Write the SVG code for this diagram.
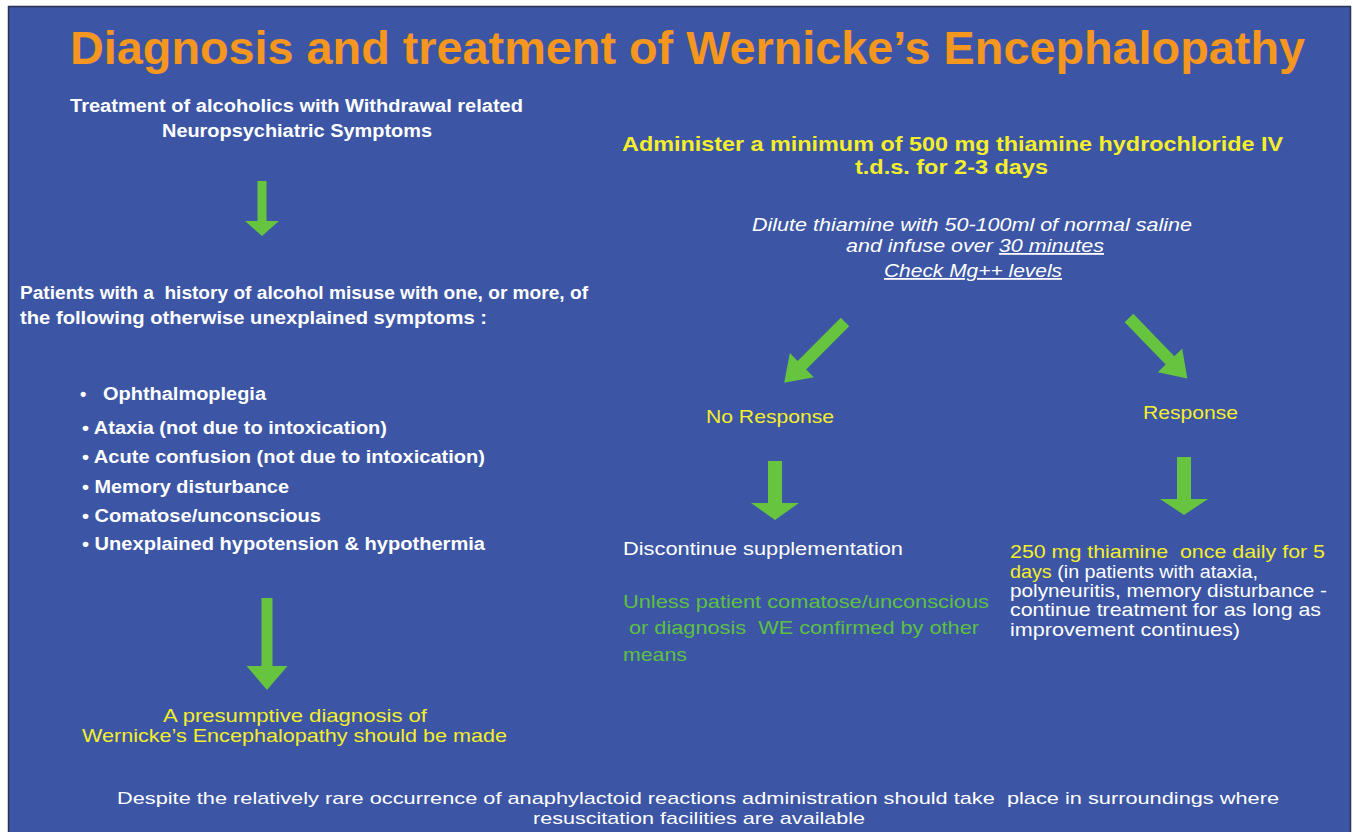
<svg xmlns="http://www.w3.org/2000/svg" width="1353" height="832" viewBox="0 0 1353 832">
<defs>
<style>
text{font-family:"Liberation Sans",Arial,sans-serif;white-space:pre;}
.t{fill:#f5961f;font-weight:bold;font-size:47px;}
.w{fill:#ffffff;}
.y{fill:#f4ee2b;}
.g{fill:#5dc043;}
.b{font-weight:bold;}
.i{font-style:italic;}
.u{text-decoration:underline;}
.arr{fill:#66c43f;}
</style>
</defs>
<rect x="0" y="0" width="1353" height="832" fill="#ffffff"/>
<rect x="8.5" y="6.5" width="1342" height="830" fill="#3c56a5" stroke="#2b3150" stroke-width="1.5"/>

<g id="title"><text class="t" x="70" y="64" textLength="1235" lengthAdjust="spacingAndGlyphs">Diagnosis and treatment of Wernicke’s Encephalopathy</text></g>

<g id="start">
<text class="w b" x="70" y="112" font-size="18" textLength="453" lengthAdjust="spacingAndGlyphs">Treatment of alcoholics with Withdrawal related</text>
<text class="w b" x="162" y="137" font-size="18" textLength="270" lengthAdjust="spacingAndGlyphs">Neuropsychiatric Symptoms</text>
</g>

<g id="patients">
<text class="w b" x="20" y="299" font-size="18" textLength="568" lengthAdjust="spacingAndGlyphs">Patients with a  history of alcohol misuse with one, or more, of</text>
<text class="w b" x="20" y="324" font-size="18" textLength="467" lengthAdjust="spacingAndGlyphs">the following otherwise unexplained symptoms :</text>
</g>

<g id="symptoms">
<text class="w b" x="80" y="400" font-size="18">•</text>
<text class="w b" x="103" y="400" font-size="18" textLength="163" lengthAdjust="spacingAndGlyphs">Ophthalmoplegia</text>
<text class="w b" x="82" y="434" font-size="18" textLength="305" lengthAdjust="spacingAndGlyphs">• Ataxia (not due to intoxication)</text>
<text class="w b" x="82" y="463" font-size="18" textLength="403" lengthAdjust="spacingAndGlyphs">• Acute confusion (not due to intoxication)</text>
<text class="w b" x="82" y="493" font-size="18" textLength="207" lengthAdjust="spacingAndGlyphs">• Memory disturbance</text>
<text class="w b" x="82" y="522" font-size="18" textLength="239" lengthAdjust="spacingAndGlyphs">• Comatose/unconscious</text>
<text class="w b" x="82" y="550" font-size="18" textLength="403" lengthAdjust="spacingAndGlyphs">• Unexplained hypotension &amp; hypothermia</text>
</g>

<g id="presumptive">
<text class="y" x="163" y="722" font-size="19" textLength="264" lengthAdjust="spacingAndGlyphs">A presumptive diagnosis of</text>
<text class="y" x="82" y="742" font-size="19" textLength="425" lengthAdjust="spacingAndGlyphs">Wernicke’s Encephalopathy should be made</text>
</g>

<g id="administer">
<text class="y b" x="622" y="151" font-size="21" textLength="661" lengthAdjust="spacingAndGlyphs">Administer a minimum of 500 mg thiamine hydrochloride IV</text>
<text class="y b" x="855" y="174" font-size="21" textLength="193" lengthAdjust="spacingAndGlyphs">t.d.s. for 2-3 days</text>
</g>

<g id="dilute">
<text class="w i" x="752" y="231" font-size="18" textLength="440" lengthAdjust="spacingAndGlyphs">Dilute thiamine with 50-100ml of normal saline</text>
<text class="w i" x="846" y="252" font-size="18" textLength="258" lengthAdjust="spacingAndGlyphs">and infuse over <tspan class="u">30 minutes</tspan></text>
<text class="w i u" x="884" y="277" font-size="18" textLength="178" lengthAdjust="spacingAndGlyphs">Check Mg++ levels</text>
</g>

<g id="no-response"><text class="y" x="706" y="423" font-size="19" textLength="128" lengthAdjust="spacingAndGlyphs">No Response</text></g>
<g id="response"><text class="y" x="1143" y="419" font-size="19" textLength="95" lengthAdjust="spacingAndGlyphs">Response</text></g>

<g id="discontinue">
<text class="w" x="623" y="555" font-size="19" textLength="280" lengthAdjust="spacingAndGlyphs">Discontinue supplementation</text>
<text class="g" x="623" y="608" font-size="19" textLength="366" lengthAdjust="spacingAndGlyphs">Unless patient comatose/unconscious</text>
<text class="g" x="623" y="634" font-size="19" textLength="356" lengthAdjust="spacingAndGlyphs"> or diagnosis  WE confirmed by other</text>
<text class="g" x="623" y="661" font-size="19" textLength="64" lengthAdjust="spacingAndGlyphs">means</text>
</g>

<g id="maintenance">
<text class="y" x="1010" y="558" font-size="19" textLength="315" lengthAdjust="spacingAndGlyphs">250 mg thiamine  once daily for 5</text>
<text class="w" x="1010" y="578" font-size="19" textLength="248" lengthAdjust="spacingAndGlyphs"><tspan class="y">days</tspan> (in patients with ataxia,</text>
<text class="w" x="1010" y="597" font-size="19" textLength="317" lengthAdjust="spacingAndGlyphs">polyneuritis, memory disturbance -</text>
<text class="w" x="1010" y="616" font-size="19" textLength="311" lengthAdjust="spacingAndGlyphs">continue treatment for as long as</text>
<text class="w" x="1010" y="636" font-size="19" textLength="230" lengthAdjust="spacingAndGlyphs">improvement continues)</text>
</g>

<g id="footer">
<text class="w" x="117" y="804" font-size="17" textLength="1162" lengthAdjust="spacingAndGlyphs">Despite the relatively rare occurrence of anaphylactoid reactions administration should take  place in surroundings where</text>
<text class="w" x="533" y="824" font-size="17" textLength="332" lengthAdjust="spacingAndGlyphs">resuscitation facilities are available</text>
</g>

<g id="connectors">
<path class="arr" d="M257.5,181 H266.5 V221 H279 L262,236 L245,221 H257.5 Z"/>
<path class="arr" d="M261.5,598 H272.5 V666 H287.5 L267,690 L246.5,666 H261.5 Z"/>
<path class="arr" transform="translate(845,322) rotate(45)" d="M-6,0 H6 V61 H17 L0,86 L-17,61 H-6 Z"/>
<path class="arr" transform="translate(1129,318) rotate(-44)" d="M-6,0 H6 V59 H17 L0,84 L-17,59 H-6 Z"/>
<path class="arr" d="M768,461 H782 V503 H799 L775,520 L751,503 H768 Z"/>
<path class="arr" d="M1177,457 H1191 V499 H1208 L1184,515 L1160,499 H1177 Z"/>
</g>
</svg>
